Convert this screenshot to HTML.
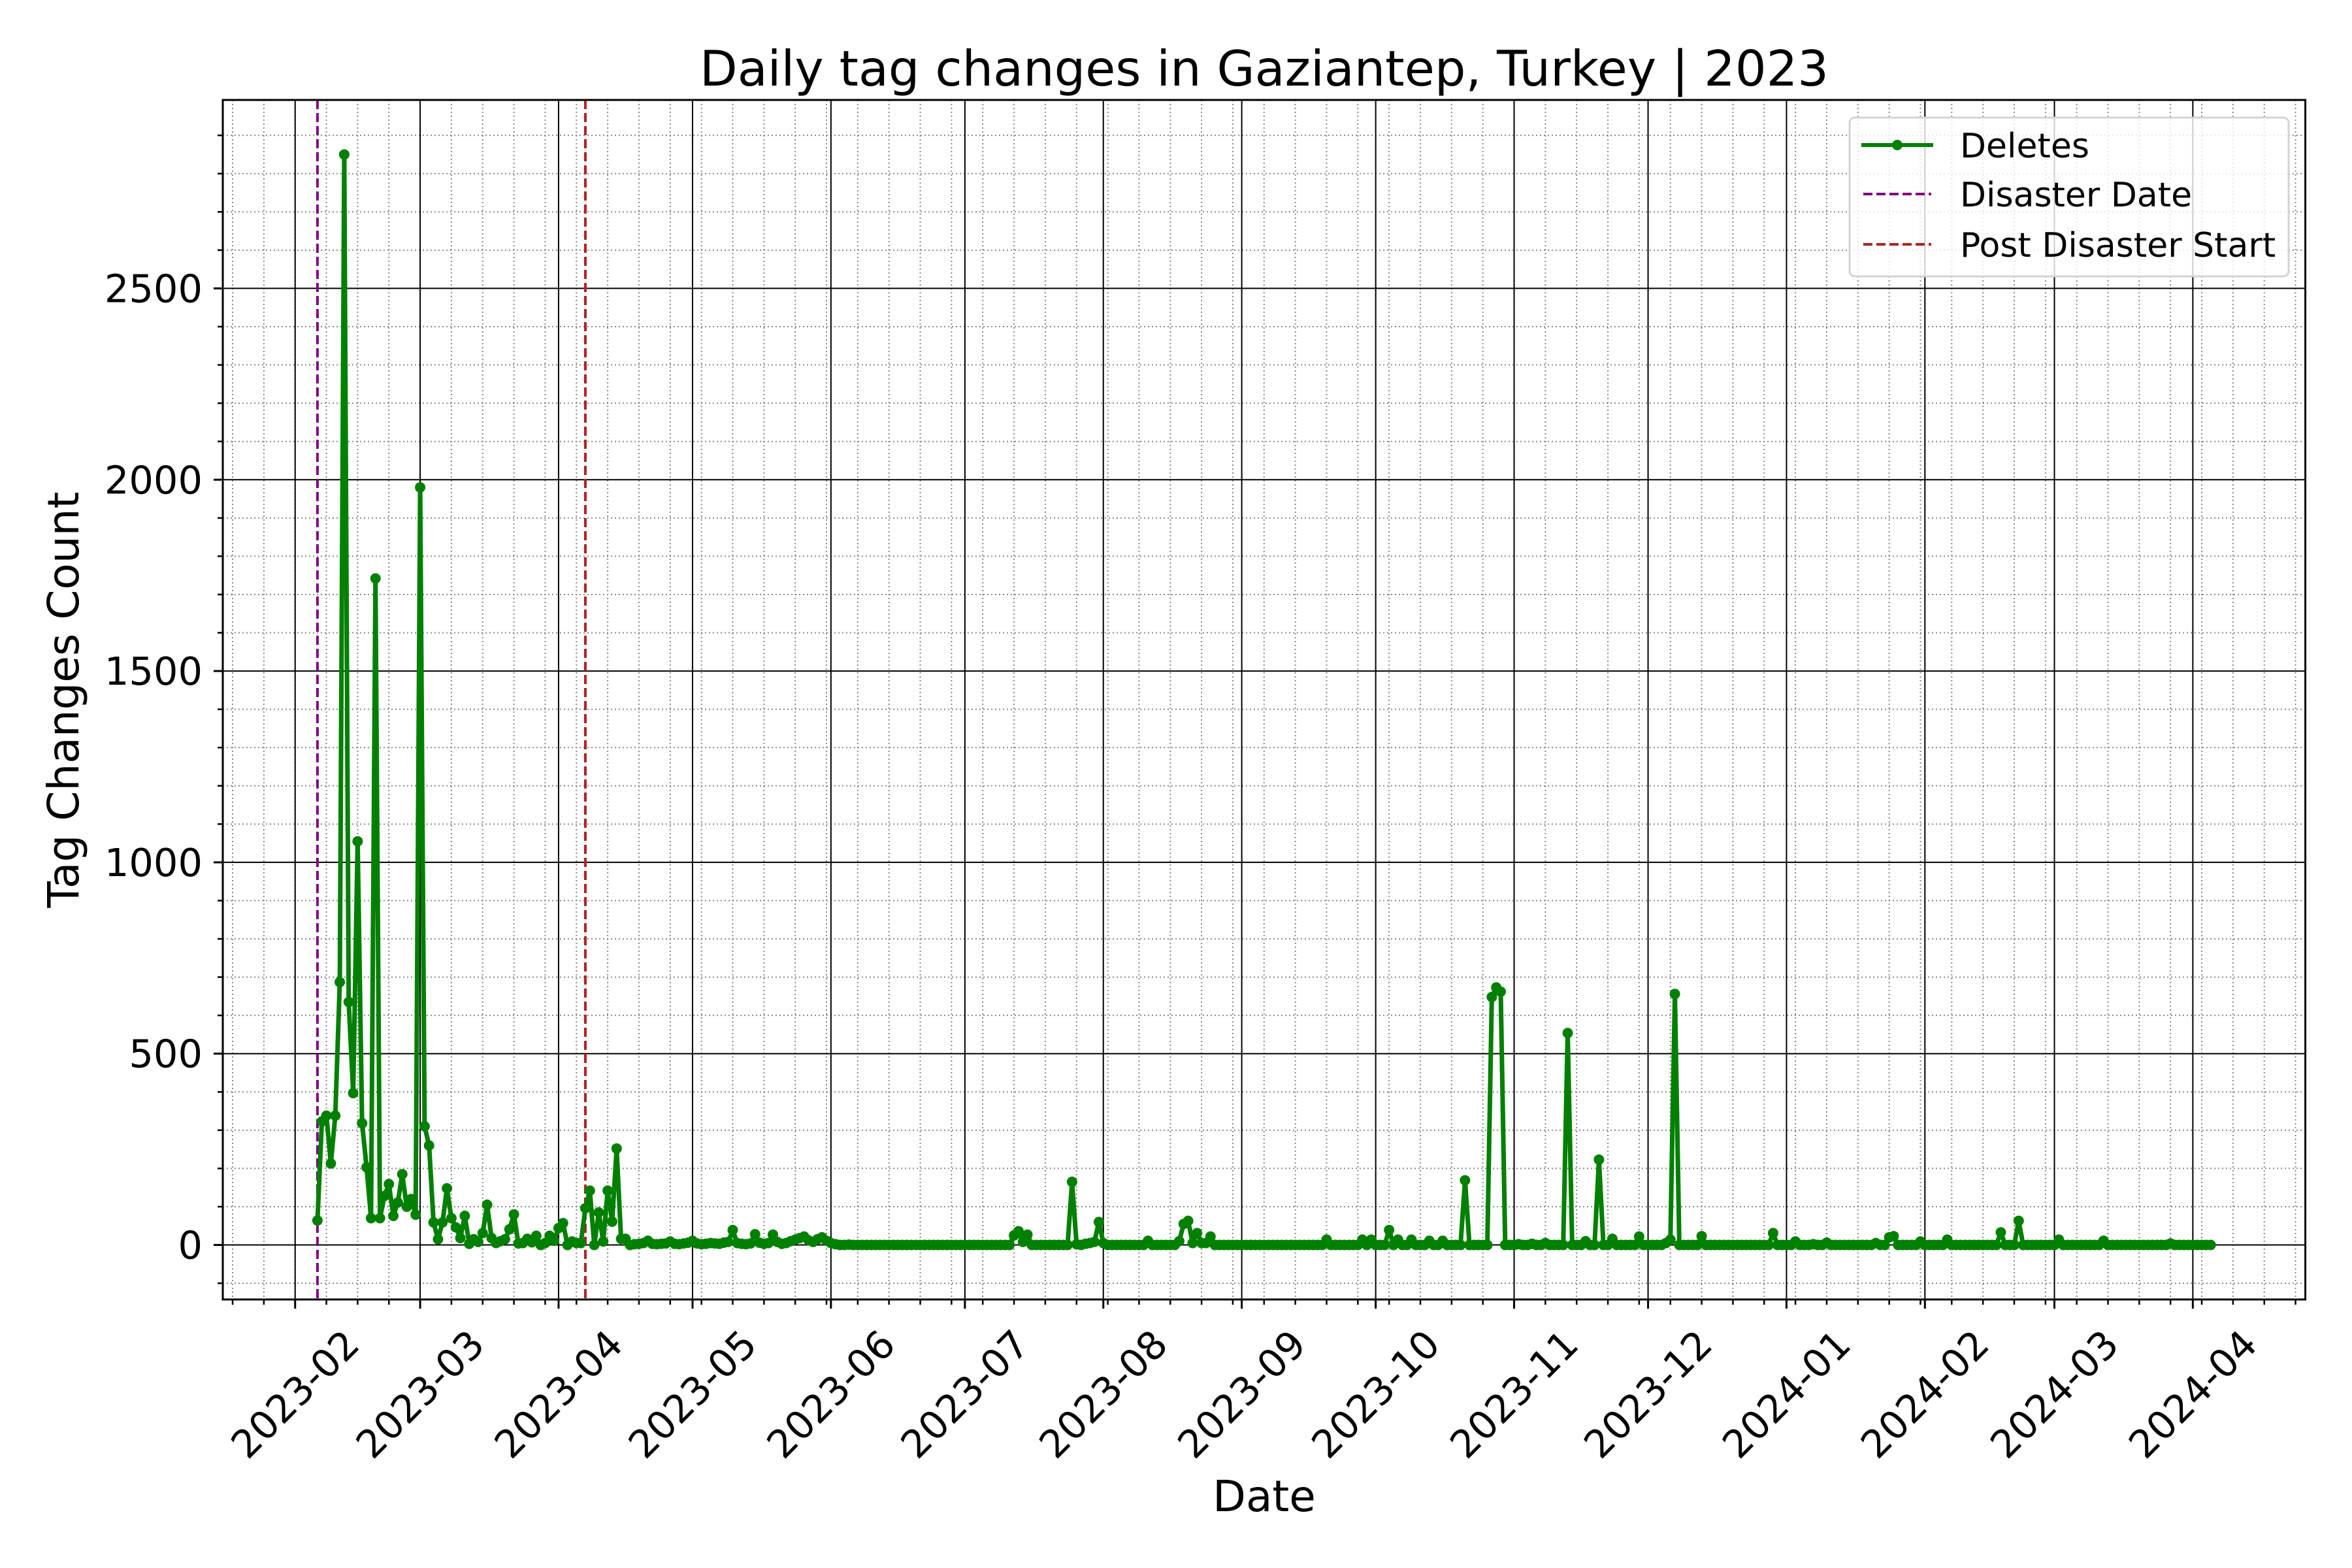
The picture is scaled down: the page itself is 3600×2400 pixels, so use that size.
<!DOCTYPE html>
<html><head><meta charset="utf-8"><style>
html,body{margin:0;padding:0;background:#fff;}
svg{display:block;font-family:"DejaVu Sans","Liberation Sans",sans-serif;}
</style></head><body>
<svg id="chart" width="3600" height="2400" viewBox="0 0 3600 2400" xmlns="http://www.w3.org/2000/svg">
<rect width="3600" height="2400" fill="#fff"/>
<g id="grid"></g>
<g id="plot"></g>
<g id="axes"></g>
<text x="1935" y="131" font-size="75" text-anchor="middle">Daily tag changes in Gaziantep, Turkey | 2023</text>
<text x="1935" y="2313" font-size="66" text-anchor="middle">Date</text>
<text transform="translate(120,1071) rotate(-90)" font-size="66" text-anchor="middle">Tag Changes Count</text>
<g id="legend">
  <rect x="2831" y="180" width="672" height="243" rx="8" fill="#fff" fill-opacity="0.8" stroke="#d3d3d3" stroke-width="3"/>
  <g>
    <line x1="2849" y1="222" x2="2959" y2="222" stroke="#008000" stroke-width="6"/>
    <circle cx="2904" cy="222" r="8" fill="#008000"/>
    <text x="3000" y="241" font-size="52">Deletes</text>
  </g>
  <g>
    <line x1="2852" y1="297" x2="2956" y2="297" stroke="#800080" stroke-width="4" stroke-dasharray="14,6"/>
    <text x="3000" y="316" font-size="52">Disaster Date</text>
  </g>
  <g>
    <line x1="2852" y1="374" x2="2956" y2="374" stroke="#b22222" stroke-width="4" stroke-dasharray="14,6"/>
    <text x="3000" y="393" font-size="52">Post Disaster Start</text>
  </g>
</g>
</svg>
<script>
// Daily values, one array per month (first day = 2023-02-06)
const startDate = "2023-02-06";
const feb2023 = [64,323,338,213,338,687,2850,635,397,1055,318,203,70,1742,70,128,159,76,111,185,100,120,79];
const mar2023 = [1980,310,260,59,15,59,148,70,46,18,76,3,15,8,31,105,18,5,10,15,41,80,4,5,16,7,24,0,5,24,11];
const apr2023 = [44,57,0,9,5,5,96,142,0,85,9,142,61,252,16,16,0,2,3,5,11,3,2,3,4,9,3,2,4,6];
const may2023 = [11,4,2,3,5,4,3,6,8,39,5,3,2,4,28,6,3,5,27,8,3,5,10,14,18,22,12,8,15,20,11];
const jun2023 = [5,2,0,0,1,0,0,0,0,0,0,0,0,0,0,0,0,0,0,0,0,0,0,0,0,0,0,0,0,0];
const jul2023 = [0,0,0,0,0,0,0,0,0,0,0,25,36,8,27,0,0,0,0,0,0,0,0,0,165,2,0,3,5,8,60];
const aug2023 = [5,0,0,0,0,0,0,0,0,0,11,0,0,0,0,0,0,10,55,63,5,31,5,5,22,0,0,0,0,0,0];
const sep2023 = [0,0,0,0,0,0,0,0,0,0,0,0,0,0,0,0,0,0,0,14,0,0,0,0,0,0,0,14,0,14];
const oct2023 = [0,0,0,39,0,14,0,0,14,0,0,0,11,0,0,11,0,0,0,0,169,0,0,0,0,0,648,673,662,0,0];
const nov2023 = [0,2,0,0,3,0,0,5,0,0,0,0,554,0,0,0,10,0,0,223,0,0,16,0,0,0,0,0,22,0];
const dec2023 = [0,0,0,0,5,14,656,0,0,0,0,0,23,0,0,0,0,0,0,0,0,0,0,0,0,0,0,0,31,0,0];
const jan2024 = [0,0,9,0,0,0,2,0,0,6,0,0,0,0,0,0,0,0,0,0,5,0,0,20,23,0,0,0,0,0,9];
const feb2024 = [0,0,0,0,0,14,0,0,0,0,0,0,0,0,0,0,0,33,0,0,0,63,0,0,0,0,0,0,0];
const mar2024 = [0,14,0,0,0,0,0,0,0,0,0,11,0,0,0,0,0,0,0,0,0,0,0,0,0,0,4,0,0,0,0];
const apr2024 = [0,0,0,0,0];
const yTicks = [0,500,1000,1500,2000,2500];
const monthLabels = ["2023-02","2023-03","2023-04","2023-05","2023-06","2023-07","2023-08","2023-09","2023-10","2023-11","2023-12","2024-01","2024-02","2024-03","2024-04"];
const disasterDate = "2023-02-06";
const postDisasterDate = "2023-04-07";

const NS = "http://www.w3.org/2000/svg";
const values = [].concat(feb2023,mar2023,apr2023,may2023,jun2023,jul2023,aug2023,sep2023,oct2023,nov2023,dec2023,jan2024,feb2024,mar2024,apr2024);
const DAY = 86400000;
const t0 = Date.UTC(2023,1,1);
function dayOf(s){const p=s.split("-").map(Number);return (Date.UTC(p[0],p[1]-1,p[2]||1)-t0)/DAY;}
const firstDay = dayOf(startDate);
const lastDay = firstDay + values.length - 1;
const L=341, R=3528.6, T=153, B=1989;
const xPad=(lastDay-firstDay)*0.05;
const xMin=firstDay-xPad, xMax=lastDay+xPad;
const vMax=Math.max(...values), vMin=Math.min(...values);
const yPad=(vMax-vMin)*0.05;
const yMin=vMin-yPad, yMax=vMax+yPad;
function X(d){return L+(d-xMin)/(xMax-xMin)*(R-L);}
function Y(v){return B-(v-yMin)/(yMax-yMin)*(B-T);}
function mk(tag,attrs,parent){const e=document.createElementNS(NS,tag);for(const k in attrs)e.setAttribute(k,attrs[k]);parent.appendChild(e);return e;}
const grid=document.getElementById("grid"), plot=document.getElementById("plot"), axes=document.getElementById("axes");

for(let v=Math.ceil(yMin/100)*100; v<=yMax; v+=100){
  const y=Y(v);
  if(v%500!==0){
    const g=mk("line",{x1:L,x2:R,y1:y,y2:y,stroke:"#888",'stroke-width':2,'stroke-dasharray':"2,4"},grid);
    
    
  }
  const tk=mk("line",{x1:L-8,x2:L,y1:y,y2:y,stroke:"#000",'stroke-width':2.5},axes);
  
  
}
for(let d=Math.ceil(xMin); d<=xMax; d++){
  const wd=new Date(t0+d*DAY).getUTCDay();
  if(wd===3){
    const x=X(d);
    const g=mk("line",{x1:x,x2:x,y1:T,y2:B,stroke:"#888",'stroke-width':2,'stroke-dasharray':"2,4"},grid);
    
    
    const tk=mk("line",{x1:x,x2:x,y1:B,y2:B+8,stroke:"#000",'stroke-width':2.5},axes);
    
    
  }
}
yTicks.forEach(v=>{
  const y=Y(v);
  const g=mk("line",{x1:L,x2:R,y1:y,y2:y,stroke:"#000",'stroke-width':2},grid);
  
  
  const tk=mk("line",{x1:L-14,x2:L,y1:y,y2:y,stroke:"#000",'stroke-width':3},axes);
  
  
  const tx=mk("text",{x:310,y:y+21,'font-size':59,'text-anchor':'end'},axes);
  tx.textContent=String(v);
  
  
});
monthLabels.forEach(m=>{
  const x=X(dayOf(m));
  const g=mk("line",{x1:x,x2:x,y1:T,y2:B,stroke:"#000",'stroke-width':2},grid);
  
  
  const tk=mk("line",{x1:x,x2:x,y1:B,y2:B+14,stroke:"#000",'stroke-width':3},axes);
  
  
  const tx=mk("text",{x:0,y:0,'font-size':59,'text-anchor':'middle','dominant-baseline':'central',transform:`translate(${x},2134) rotate(-45)`},axes);
  tx.textContent=m;
  
  
});
[[disasterDate,"#800080","disaster-date-line"],[postDisasterDate,"#b22222","post-disaster-start-line"]].forEach(([d,c,n])=>{
  const x=X(dayOf(d));
  const l=mk("line",{x1:x,x2:x,y1:T,y2:B,stroke:c,'stroke-width':4,'stroke-dasharray':"14,6"},plot);
  
  
});
const pts=values.map((v,i)=>X(firstDay+i).toFixed(1)+","+Y(v).toFixed(1)).join(" ");
const pl=mk("polyline",{points:pts,fill:"none",stroke:"#008000",'stroke-width':7,'stroke-linejoin':'round'},plot);


values.forEach((v,i)=>{
  const c=mk("circle",{cx:X(firstDay+i),cy:Y(v),r:8,fill:"#008000"},plot);
  
  
});
const sp=mk("rect",{x:L,y:T,width:R-L,height:B-T,fill:"none",stroke:"#000",'stroke-width':3},axes);


</script>
</body></html>
